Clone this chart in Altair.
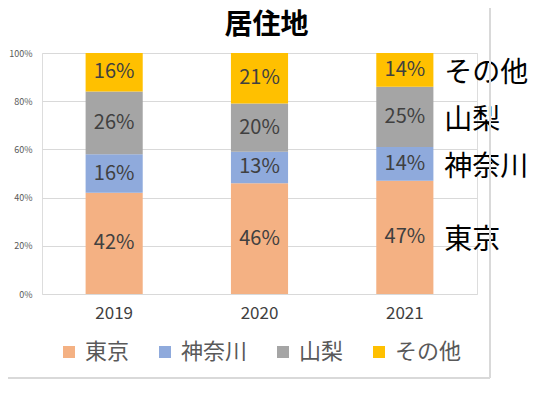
import altair as alt
import pandas as pd

years = ["2019", "2020", "2021"]
regions = ["東京", "神奈川", "山梨", "その他"]
tokyo = [42, 46, 47]
kanagawa = [16, 13, 14]
yamanashi = [26, 20, 25]
other = [16, 21, 14]
colors = ["#F4B183", "#8FAADC", "#A5A5A5", "#FFC000"]
y_ticks = [0, 0.2, 0.4, 0.6, 0.8, 1.0]
title_text = ["居住地"]

series = [tokyo, kanagawa, yamanashi, other]
rows = []
for ri, (r, vals) in enumerate(zip(regions, series)):
    for yr, v in zip(years, vals):
        rows.append({"year": yr, "region": r, "order": ri, "frac": v / 100, "label": f"{v}%"})
df = pd.DataFrame(rows)

JP = "Noto Sans CJK JP"

base = alt.Chart(df).transform_stack(
    stack="frac", groupby=["year"],
    sort=[alt.SortField("order", order="ascending")], as_=["y0", "y1"]
).transform_calculate(mid="(datum.y0 + datum.y1) / 2")

xenc = alt.X(
    "year:N", title=None,
    scale=alt.Scale(domain=years, paddingInner=0.607, paddingOuter=0.3),
    axis=alt.Axis(labelAngle=0, labelFont=JP, labelFontSize=17, labelColor="#404040",
                  labelPadding=11, domain=False, ticks=False, grid=False),
)
yscale = alt.Scale(domain=[0, 1], nice=False)

bars = base.mark_bar().encode(
    x=xenc,
    y=alt.Y("y0:Q", scale=yscale, title=None,
            axis=alt.Axis(format=".0%", values=y_ticks, labelFont=JP, labelFontSize=9,
                          labelColor="#595959", labelPadding=10, domain=False, ticks=False,
                          gridColor="#d9d9d9", gridWidth=1)),
    y2="y1:Q",
    color=alt.Color("region:N", scale=alt.Scale(domain=regions, range=colors),
                    legend=alt.Legend(title=None, orient="none", direction="horizontal",
                                      legendX=16, legendY=288, symbolType="square",
                                      symbolSize=144, symbolStrokeWidth=0, symbolOpacity=1,
                                      labelFont=JP, labelFontSize=22, labelColor="#595959",
                                      labelOffset=5, columnPadding=24)),
)

bar_text = base.mark_text(font=JP, fontSize=20, color="#404040", baseline="middle").encode(
    x=alt.X("year:N"),
    y=alt.Y("mid:Q", scale=yscale),
    text="label:N",
)

side_text = base.transform_filter("datum.year == '2021'").mark_text(
    font=JP, fontSize=28, color="#000000", align="left", baseline="middle", dx=39.5, dy=4
).encode(
    x=alt.X("year:N"),
    y=alt.Y("mid:Q", scale=yscale),
    text="region:N",
)

title_mark = alt.Chart(pd.DataFrame({"t": title_text})).mark_text(
    font=JP, fontSize=28, fontWeight="bold", color="#000000", align="center",
    baseline="top"
).encode(text="t:N", x=alt.value(224.5), y=alt.value(-41.5))

frame_df = pd.DataFrame({"k": [0]})
border_right = alt.Chart(frame_df).mark_rule(color="#d9d9d9", strokeWidth=2).encode(
    x=alt.value(448), y=alt.value(-45), y2=alt.value(325))
border_bottom = alt.Chart(frame_df).mark_rule(color="#d9d9d9", strokeWidth=2).encode(
    x=alt.value(-34), x2=alt.value(448), y=alt.value(325))

chart = alt.layer(bars, bar_text, side_text, title_mark, border_right, border_bottom).properties(
    width=435, height=241,
    padding={"left": 34, "top": 45, "right": 61, "bottom": 86},
    autosize=alt.AutoSizeParams(type="none"),
).configure_view(stroke=None).configure(background="white")

chart.save("out.html", embed_options={"renderer": "svg", "actions": False})
